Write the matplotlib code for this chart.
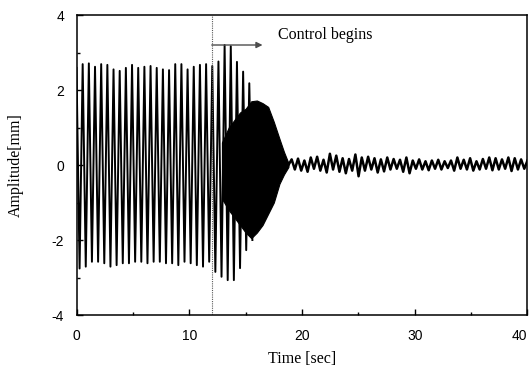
import numpy as np
import matplotlib
matplotlib.use("Agg")
import matplotlib.pyplot as plt
from matplotlib.ticker import MultipleLocator

plt.rcParams["axes.unicode_minus"] = False

# ---- data ----
# alternating peak / trough values of the large oscillation, 0 .. 15.6 s
spike_t_range = (0.0, 15.6)
spike_extrema = [2.59, -2.76, 2.69, -2.71, 2.71, -2.58, 2.62, -2.58, 2.69, -2.62,
                 2.67, -2.71, 2.55, -2.67, 2.51, -2.62, 2.59, -2.62, 2.67, -2.58,
                 2.59, -2.58, 2.62, -2.62, 2.64, -2.58, 2.59, -2.58, 2.55, -2.62,
                 2.53, -2.62, 2.69, -2.67, 2.69, -2.58, 2.55, -2.62, 2.62, -2.67,
                 2.67, -2.71, 2.69, -2.58, 2.64, -2.85, 2.76, -2.98, 3.20, -3.07,
                 3.17, -3.07, 2.75, -2.75, 2.49, -2.27, 2.18, -2.00]
# envelope of the dense (high-frequency) part after control starts
dense_t = [12.9, 13.5, 14.0, 14.5, 15.0, 15.5, 16.0, 16.5, 17.0, 17.5, 18.0, 18.4, 18.8]
dense_upper = [0.6, 1.0, 1.2, 1.4, 1.5, 1.7, 1.72, 1.65, 1.55, 1.15, 0.7, 0.35, 0.05]
dense_lower = [-0.9, -1.2, -1.4, -1.6, -1.8, -1.95, -1.8, -1.6, -1.3, -1.0, -0.5, -0.25, -0.05]
# residual small oscillation, alternating extrema 18.8 .. 40 s
resid_t_range = (18.8, 40.0)
resid_extrema = [0.0, 0.15, -0.12, 0.17, -0.15, 0.12, -0.18, 0.2, -0.1, 0.22,
                 -0.15, 0.14, -0.2, 0.3, -0.12, 0.25, -0.18, 0.18, -0.22, 0.16,
                 -0.15, 0.28, -0.3, 0.2, -0.15, 0.22, -0.12, 0.18, -0.2, 0.15,
                 -0.17, 0.2, -0.12, 0.16, -0.1, 0.14, -0.18, 0.2, -0.22, 0.12,
                 -0.1, 0.15, -0.12, 0.1, -0.14, 0.12, -0.1, 0.14, -0.12, 0.1,
                 -0.08, 0.12, -0.15, 0.2, -0.1, 0.14, -0.12, 0.18, -0.15, 0.1,
                 -0.12, 0.16, -0.1, 0.2, -0.14, 0.18, -0.12, 0.15, -0.1, 0.2,
                 -0.16, 0.18, -0.12, 0.15, -0.1, 0.12]
control_time = 12.0
arrow_end = 16.5
arrow_level = 3.2
annotation = "Control begins"
xticks = [0, 10, 20, 30, 40]
yticks = [-4, -2, 0, 2, 4]

# ---- figure ----
fig = plt.figure(figsize=(5.32, 3.76), dpi=100)
ax = fig.add_axes([0.1438, 0.1622, 0.8477, 0.7979])

t1 = np.linspace(*spike_t_range, len(spike_extrema))
ax.plot(t1, spike_extrema, color="black", lw=1.4)
ax.fill_between(dense_t, dense_lower, dense_upper, color="black", lw=0.8, edgecolor="black")
t2 = np.linspace(*resid_t_range, len(resid_extrema))
ax.plot(t2, resid_extrema, color="black", lw=1.8)

ax.axvline(control_time, color="0.35", lw=0.8, ls=(0, (1, 1)))
ax.annotate("", xy=(arrow_end, arrow_level), xytext=(control_time, arrow_level),
            arrowprops=dict(arrowstyle="-|>", color="0.3", lw=1.0,
                            mutation_scale=9, shrinkA=0, shrinkB=0))
ax.text(17.9, 3.48, annotation, fontsize=11.5, family="Liberation Serif",
        va="center", ha="left")

ax.set_xlim(0, 40)
ax.set_ylim(-4, 4)
ax.set_xticks(xticks)
ax.set_yticks(yticks)
ax.xaxis.set_minor_locator(MultipleLocator(5))
ax.yaxis.set_minor_locator(MultipleLocator(1))
ax.tick_params(which="both", direction="in", top=False, right=False, width=1.0)
ax.tick_params(which="major", length=4, labelsize=10)
ax.tick_params(axis="x", which="major", pad=10)
ax.tick_params(axis="y", which="major", pad=9)
ax.tick_params(which="minor", length=2.5)
for lab in ax.get_xticklabels() + ax.get_yticklabels():
    lab.set_family("Liberation Sans")
ax.get_xticklabels()[-1].set_horizontalalignment("right")
for s in ax.spines.values():
    s.set_linewidth(1.1)

ax.set_xlabel("Time [sec]", family="Liberation Serif", fontsize=11.5, labelpad=6)
ax.set_ylabel("Amplitude[mm]", family="Liberation Serif", fontsize=11.5, labelpad=20)

fig.savefig("out.png", dpi=100)
